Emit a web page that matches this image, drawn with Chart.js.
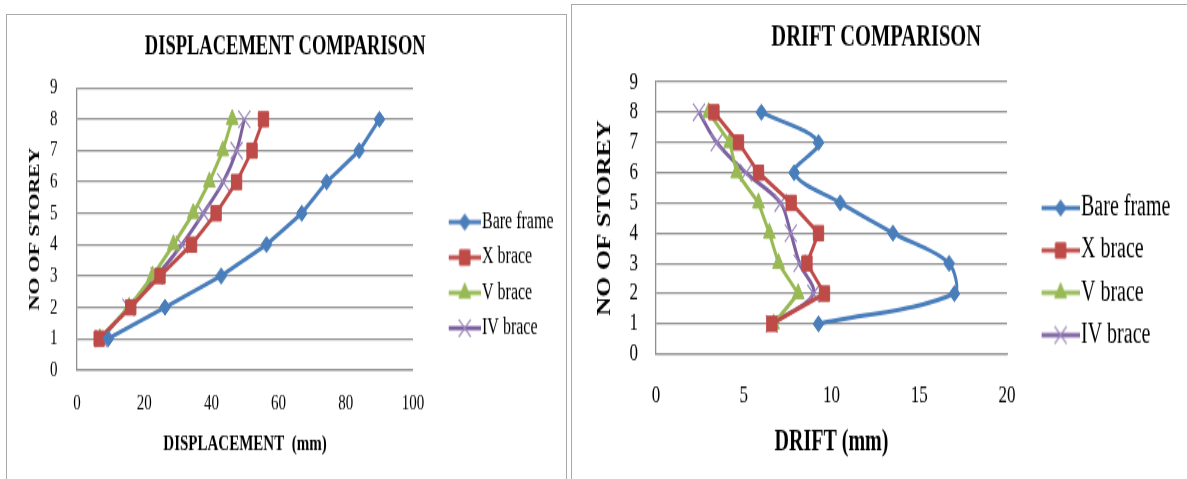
<!DOCTYPE html>
<html><head><meta charset="utf-8">
<script src="https://cdn.jsdelivr.net/npm/chart.js@4.4.1/dist/chart.umd.min.js"></script>
<style>
html,body{margin:0;padding:0;background:#fff;width:1187px;height:479px;overflow:hidden;}
.panel{position:absolute;border:1.5px solid #a9a9a9;box-sizing:border-box;background:#fff}
.wrap{position:absolute;transform-origin:0 0;transform:scaleY(1.45);}
canvas{display:block}
</style></head><body>
<div class="panel" style="left:6px;top:14px;width:561px;height:480px"></div>
<div class="panel" style="left:571px;top:4px;width:630px;height:490px"></div>
<div class="wrap" style="left:7px;top:15px;"><canvas id="c1" width="558" height="320" style="width:558px;height:320px"></canvas></div>
<div class="wrap" style="left:572px;top:5px;"><canvas id="c2" width="615" height="327" style="width:615px;height:327px"></canvas></div>
<script>
// ---- data ----
const storeys = [1, 2, 3, 4, 5, 6, 7, 8];
const seriesNames = ['Bare frame', 'X brace', 'V brace', 'IV brace'];
const dispBare = [9.3, 26.2, 42.9, 56.4, 66.9, 74.3, 84.0, 90.0];
const dispX    = [6.6, 16.0, 24.7, 34.1, 41.4, 47.5, 52.1, 55.5];
const dispV    = [6.8, 15.5, 22.5, 28.7, 34.6, 39.4, 43.4, 46.2];
const dispIV   = [7.3, 15.3, 23.7, 31.2, 37.6, 43.5, 47.5, 49.8];
const driftBare = [9.26, 17.0, 16.7, 13.5, 10.5, 7.87, 9.26, 6.0];
const driftX    = [6.6, 9.6, 8.6, 9.26, 7.7, 5.84, 4.7, 3.3];
const driftV    = [6.7, 8.1, 6.98, 6.46, 5.84, 4.6, 4.2, 3.0];
const driftIV   = [6.6, 8.97, 8.18, 7.68, 7.1, 5.13, 3.46, 2.45];
const storeyTicks = [0, 1, 2, 3, 4, 5, 6, 7, 8, 9];
const dispTicks = [0, 20, 40, 60, 80, 100];
const driftTicks = [0, 5, 10, 15, 20];

// ---- styles ----
const SERIF = "'Liberation Serif', 'Times New Roman', serif";
const GRID = '#8f8f8f';
const COLORS = ['#4a7ebb', '#be4b48', '#98b954', '#7d60a0'];
const STYLES = [
  {pointStyle: 'rectRot', pointRadius: 5.5, pointBorderWidth: 1},
  {pointStyle: 'rect', pointRadius: 7.3, pointBorderWidth: 1},
  {pointStyle: 'triangle', pointRadius: 6.8, pointBorderWidth: 1},
  {pointStyle: 'crossRot', pointRadius: 8.5, pointBorderWidth: 1.2}
];

function pts(vals) { return vals.map((v, i) => ({x: v, y: storeys[i]})); }

function makeDatasets(seriesVals, tensions) {
  return seriesVals.map((vals, i) => ({
    label: seriesNames[i],
    data: pts(vals),
    showLine: true,
    borderColor: COLORS[i],
    backgroundColor: COLORS[i],
    borderWidth: 3,
    pointStyle: STYLES[i].pointStyle,
    pointRadius: STYLES[i].pointRadius,
    pointBorderWidth: STYLES[i].pointBorderWidth,
    pointBackgroundColor: COLORS[i],
    pointBorderColor: i === 3 ? '#9a86bd' : COLORS[i],
    tension: tensions[i],
    fill: false
  }));
}

function legendImg(ds, W, L, H) {
  const c = document.createElement('canvas');
  c.width = Math.round(W); c.height = H;
  const g = c.getContext('2d');
  const w = c.width;
  g.strokeStyle = ds.borderColor; g.lineWidth = ds.borderWidth;
  g.beginPath(); g.moveTo(w - L, H / 2); g.lineTo(w, H / 2); g.stroke();
  g.fillStyle = ds.pointBackgroundColor; g.strokeStyle = ds.pointBorderColor;
  g.lineWidth = ds.pointBorderWidth;
  Chart.helpers.drawPoint(g, {pointStyle: ds.pointStyle, radius: ds.pointRadius, rotation: 0, borderWidth: ds.pointBorderWidth}, w - L / 2, H / 2);
  return c;
}

function tickSetter(arr) { return s => { s.ticks = arr.map(v => ({value: v})); }; }

function buildChart(id, cfg) {
  const datasets = makeDatasets(cfg.series, cfg.tensions);
  const imgs = datasets.map(ds => legendImg(ds, cfg.leg.b + cfg.leg.f - 3, cfg.leg.L, 22));
  return new Chart(document.getElementById(id), {
    type: 'scatter',
    data: {datasets},
    options: {
      responsive: false,
      animation: false,
      devicePixelRatio: 1,
      events: [],
      layout: {padding: {left: 0, top: 0, right: cfg.padRight, bottom: 0}},
      plugins: {
        tooltip: {enabled: false},
        title: {
          display: true, text: cfg.title, color: '#000',
          font: {family: SERIF, size: cfg.titleSize, weight: 'bold', lineHeight: 1.2},
          padding: {top: cfg.titlePad[0], bottom: cfg.titlePad[1]}
        },
        legend: {
          display: true, position: 'right', align: 'center', fullSize: true,
          maxWidth: 260,
          title: {display: true, text: '', font: {size: 10}, padding: {top: cfg.leg.th - 12, bottom: 0}},
          labels: {
            usePointStyle: true, pointStyleWidth: cfg.leg.b,
            color: '#000', font: {family: SERIF, size: cfg.leg.f},
            padding: cfg.leg.pad,
            generateLabels: chart => {
              const items = Chart.defaults.plugins.legend.labels.generateLabels(chart);
              items.forEach((it, i) => { it.pointStyle = imgs[i]; });
              return items;
            }
          }
        }
      },
      scales: {
        x: {
          type: 'linear', position: 'bottom',
          min: cfg.xTicks[0], max: cfg.xTicks[cfg.xTicks.length - 1],
          afterBuildTicks: tickSetter(cfg.xTicks),
          grid: {display: false, drawTicks: false},
          border: {display: true, color: GRID, width: 1.3},
          ticks: {color: '#000', font: {family: SERIF, size: cfg.tickSize}, padding: cfg.xTickPad, maxRotation: 0, autoSkip: false},
          title: {display: true, text: cfg.xTitle, color: '#000',
                  font: {family: SERIF, size: cfg.xTitleSize, weight: 'bold'},
                  padding: {top: 0, bottom: cfg.xTitlePad}},
          afterFit: s => { s.height = cfg.xHeight; }
        },
        y: {
          type: 'linear', position: 'left',
          min: storeyTicks[0], max: storeyTicks[storeyTicks.length - 1],
          afterBuildTicks: tickSetter(storeyTicks),
          grid: {color: GRID, lineWidth: 1.3, drawTicks: false},
          border: {display: true, color: GRID, width: 1.3},
          ticks: {color: '#000', font: {family: SERIF, size: cfg.tickSize}, padding: cfg.yTickPad, autoSkip: false},
          title: {display: true, text: 'NO OF STOREY', color: '#000',
                  font: {family: SERIF, size: cfg.yTitleSize, weight: 'bold'},
                  padding: {top: cfg.yTitlePad, bottom: 0}},
          afterFit: s => { s.width = cfg.yWidth; }
        }
      }
    }
  });
}

buildChart('c1', {
  series: [dispBare, dispX, dispV, dispIV],
  tensions: [0, 0, 0, 0.33],
  title: 'DISPLACEMENT COMPARISON', titleSize: 18.5, titlePad: [11.3, 16.8],
  xTicks: dispTicks, tickSize: 15, xTickPad: 14, yTickPad: 19.5,
  xTitle: 'DISPLACEMENT  (mm)', xTitleSize: 15, xTitlePad: 14.4, xHeight: 75.2,
  yTitleSize: 15, yTitlePad: 19, yWidth: 70,
  padRight: 1.5,
  leg: {b: 52.6, f: 16, L: 32, pad: 8.4, th: 38.8}
});

buildChart('c2', {
  series: [driftBare, driftX, driftV, driftIV],
  tensions: [0.33, 0, 0, 0.33],
  title: 'DRIFT COMPARISON', titleSize: 20.5, titlePad: [10.1, 18.4],
  xTicks: driftTicks, tickSize: 17, xTickPad: 18.8, yTickPad: 18,
  xTitle: 'DRIFT (mm)', xTitleSize: 20, xTitlePad: 13.6, xHeight: 86.3,
  yTitleSize: 18, yTitlePad: 22.2, yWidth: 84,
  padRight: 6.6,
  leg: {b: 54.8, f: 20, L: 38, pad: 9.2, th: 40.6}
});
</script>
</body></html>
